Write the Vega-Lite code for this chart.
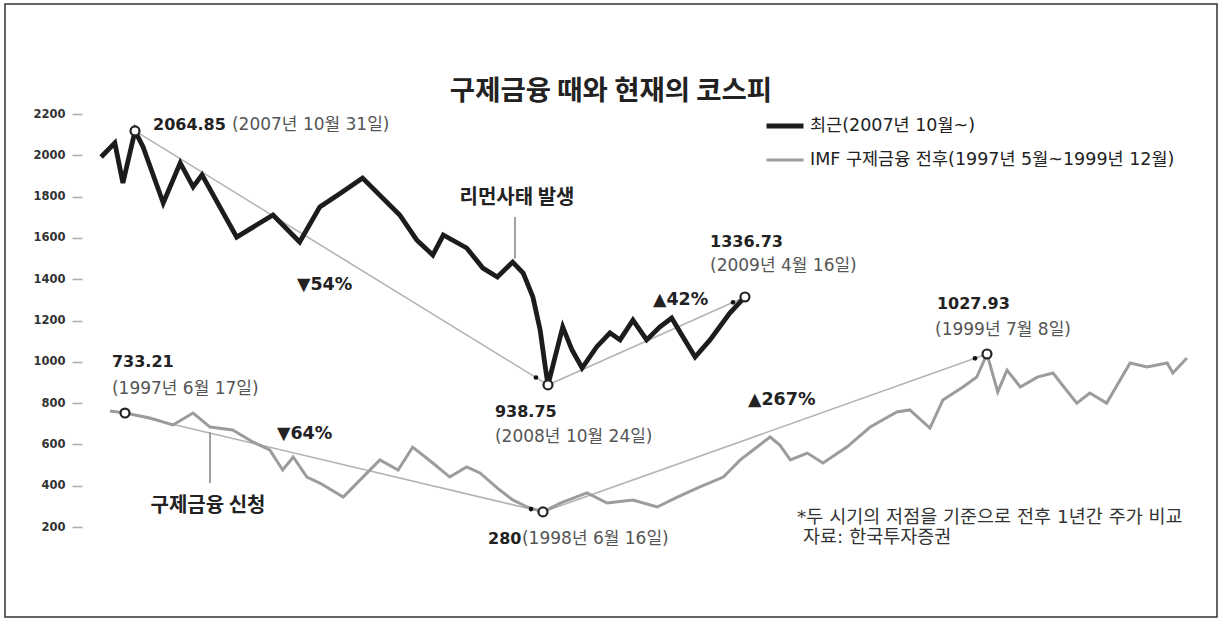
{
  "$schema": "https://vega.github.io/schema/vega-lite/v6.json",
  "width": 1212,
  "height": 613,
  "autosize": {"type": "none"},
  "padding": {"left": 5, "top": 4, "right": 4, "bottom": 4},
  "background": "white",
  "title": {"text": "구제금융 때와 현재의 코스피", "font": "Noto Sans CJK KR", "fontSize": 27.5, "fontWeight": "bold", "color": "#222", "anchor": "middle", "offset": -101},
  "config": {"view": {"stroke": "#333", "strokeWidth": 1.5}},
  "datasets": {
    "kospi": [
      {"series": "최근(2007년 10월~)", "w": -55.0, "v": 1992},
      {"series": "최근(2007년 10월~)", "w": -53.3, "v": 2060},
      {"series": "최근(2007년 10월~)", "w": -52.3, "v": 1866},
      {"series": "최근(2007년 10월~)", "w": -50.8, "v": 2118},
      {"series": "최근(2007년 10월~)", "w": -49.8, "v": 2040},
      {"series": "최근(2007년 10월~)", "w": -47.3, "v": 1769},
      {"series": "최근(2007년 10월~)", "w": -45.2, "v": 1963},
      {"series": "최근(2007년 10월~)", "w": -43.6, "v": 1847},
      {"series": "최근(2007년 10월~)", "w": -42.5, "v": 1905},
      {"series": "최근(2007년 10월~)", "w": -38.2, "v": 1604},
      {"series": "최근(2007년 10월~)", "w": -33.7, "v": 1711},
      {"series": "최근(2007년 10월~)", "w": -30.4, "v": 1580},
      {"series": "최근(2007년 10월~)", "w": -27.9, "v": 1750},
      {"series": "최근(2007년 10월~)", "w": -25.3, "v": 1817},
      {"series": "최근(2007년 10월~)", "w": -22.6, "v": 1890},
      {"series": "최근(2007년 10월~)", "w": -18.0, "v": 1711},
      {"series": "최근(2007년 10월~)", "w": -15.9, "v": 1590},
      {"series": "최근(2007년 10월~)", "w": -13.9, "v": 1517},
      {"series": "최근(2007년 10월~)", "w": -12.6, "v": 1614},
      {"series": "최근(2007년 10월~)", "w": -9.7, "v": 1551},
      {"series": "최근(2007년 10월~)", "w": -7.7, "v": 1454},
      {"series": "최근(2007년 10월~)", "w": -5.9, "v": 1411},
      {"series": "최근(2007년 10월~)", "w": -4.0, "v": 1483},
      {"series": "최근(2007년 10월~)", "w": -2.7, "v": 1430},
      {"series": "최근(2007년 10월~)", "w": -1.5, "v": 1314},
      {"series": "최근(2007년 10월~)", "w": -0.6, "v": 1154},
      {"series": "최근(2007년 10월~)", "w": 0.0, "v": 985},
      {"series": "최근(2007년 10월~)", "w": 0.37, "v": 888},
      {"series": "최근(2007년 10월~)", "w": 2.2, "v": 1169},
      {"series": "최근(2007년 10월~)", "w": 3.35, "v": 1057},
      {"series": "최근(2007년 10월~)", "w": 4.6, "v": 970},
      {"series": "최근(2007년 10월~)", "w": 6.4, "v": 1072},
      {"series": "최근(2007년 10월~)", "w": 8.05, "v": 1140},
      {"series": "최근(2007년 10월~)", "w": 9.3, "v": 1106},
      {"series": "최근(2007년 10월~)", "w": 10.9, "v": 1202},
      {"series": "최근(2007년 10월~)", "w": 12.6, "v": 1106},
      {"series": "최근(2007년 10월~)", "w": 14.25, "v": 1169},
      {"series": "최근(2007년 10월~)", "w": 15.7, "v": 1212},
      {"series": "최근(2007년 10월~)", "w": 17.1, "v": 1120},
      {"series": "최근(2007년 10월~)", "w": 18.6, "v": 1023},
      {"series": "최근(2007년 10월~)", "w": 20.45, "v": 1106},
      {"series": "최근(2007년 10월~)", "w": 22.9, "v": 1236},
      {"series": "최근(2007년 10월~)", "w": 24.78, "v": 1314},
      {"series": "IMF 구제금융 전후(1997년 5월~1999년 12월)", "w": -53.9, "v": 762},
      {"series": "IMF 구제금융 전후(1997년 5월~1999년 12월)", "w": -52.04, "v": 752},
      {"series": "IMF 구제금융 전후(1997년 5월~1999년 12월)", "w": -48.95, "v": 728},
      {"series": "IMF 구제금융 전후(1997년 5월~1999년 12월)", "w": -46.1, "v": 694},
      {"series": "IMF 구제금융 전후(1997년 5월~1999년 12월)", "w": -43.6, "v": 752},
      {"series": "IMF 구제금융 전후(1997년 5월~1999년 12월)", "w": -41.5, "v": 684},
      {"series": "IMF 구제금융 전후(1997년 5월~1999년 12월)", "w": -38.7, "v": 670},
      {"series": "IMF 구제금융 전후(1997년 5월~1999년 12월)", "w": -36.2, "v": 612},
      {"series": "IMF 구제금융 전후(1997년 5월~1999년 12월)", "w": -34.1, "v": 573},
      {"series": "IMF 구제금융 전후(1997년 5월~1999년 12월)", "w": -32.5, "v": 476},
      {"series": "IMF 구제금융 전후(1997년 5월~1999년 12월)", "w": -31.2, "v": 539},
      {"series": "IMF 구제금융 전후(1997년 5월~1999년 12월)", "w": -29.5, "v": 442},
      {"series": "IMF 구제금융 전후(1997년 5월~1999년 12월)", "w": -27.9, "v": 413},
      {"series": "IMF 구제금융 전후(1997년 5월~1999년 12월)", "w": -25.0, "v": 345},
      {"series": "IMF 구제금융 전후(1997년 5월~1999년 12월)", "w": -22.9, "v": 428},
      {"series": "IMF 구제금융 전후(1997년 5월~1999년 12월)", "w": -20.45, "v": 525},
      {"series": "IMF 구제금융 전후(1997년 5월~1999년 12월)", "w": -18.2, "v": 476},
      {"series": "IMF 구제금융 전후(1997년 5월~1999년 12월)", "w": -16.4, "v": 587},
      {"series": "IMF 구제금융 전후(1997년 5월~1999년 12월)", "w": -13.9, "v": 510},
      {"series": "IMF 구제금융 전후(1997년 5월~1999년 12월)", "w": -11.8, "v": 442},
      {"series": "IMF 구제금융 전후(1997년 5월~1999년 12월)", "w": -9.7, "v": 491},
      {"series": "IMF 구제금융 전후(1997년 5월~1999년 12월)", "w": -8.05, "v": 462},
      {"series": "IMF 구제금융 전후(1997년 5월~1999년 12월)", "w": -5.6, "v": 379},
      {"series": "IMF 구제금융 전후(1997년 5월~1999년 12월)", "w": -4.0, "v": 331},
      {"series": "IMF 구제금융 전후(1997년 5월~1999년 12월)", "w": -2.2, "v": 297},
      {"series": "IMF 구제금융 전후(1997년 5월~1999년 12월)", "w": -0.25, "v": 273},
      {"series": "IMF 구제금융 전후(1997년 5월~1999년 12월)", "w": 1.9, "v": 316},
      {"series": "IMF 구제금융 전후(1997년 5월~1999년 12월)", "w": 5.2, "v": 365},
      {"series": "IMF 구제금융 전후(1997년 5월~1999년 12월)", "w": 7.7, "v": 316},
      {"series": "IMF 구제금융 전후(1997년 5월~1999년 12월)", "w": 10.9, "v": 331},
      {"series": "IMF 구제금융 전후(1997년 5월~1999년 12월)", "w": 13.9, "v": 297},
      {"series": "IMF 구제금융 전후(1997년 5월~1999년 12월)", "w": 16.4, "v": 345},
      {"series": "IMF 구제금융 전후(1997년 5월~1999년 12월)", "w": 19.2, "v": 394},
      {"series": "IMF 구제금융 전후(1997년 5월~1999년 12월)", "w": 22.1, "v": 442},
      {"series": "IMF 구제금융 전후(1997년 5월~1999년 12월)", "w": 24.2, "v": 525},
      {"series": "IMF 구제금융 전후(1997년 5월~1999년 12월)", "w": 25.8, "v": 573},
      {"series": "IMF 구제금융 전후(1997년 5월~1999년 12월)", "w": 27.9, "v": 636},
      {"series": "IMF 구제금융 전후(1997년 5월~1999년 12월)", "w": 29.1, "v": 597},
      {"series": "IMF 구제금융 전후(1997년 5월~1999년 12월)", "w": 30.4, "v": 525},
      {"series": "IMF 구제금융 전후(1997년 5월~1999년 12월)", "w": 32.5, "v": 558},
      {"series": "IMF 구제금융 전후(1997년 5월~1999년 12월)", "w": 34.45, "v": 510},
      {"series": "IMF 구제금융 전후(1997년 5월~1999년 12월)", "w": 37.4, "v": 587},
      {"series": "IMF 구제금융 전후(1997년 5월~1999년 12월)", "w": 40.3, "v": 684},
      {"series": "IMF 구제금융 전후(1997년 5월~1999년 12월)", "w": 43.6, "v": 757},
      {"series": "IMF 구제금융 전후(1997년 5월~1999년 12월)", "w": 45.2, "v": 767},
      {"series": "IMF 구제금융 전후(1997년 5월~1999년 12월)", "w": 47.7, "v": 679},
      {"series": "IMF 구제금융 전후(1997년 5월~1999년 12월)", "w": 49.3, "v": 815},
      {"series": "IMF 구제금융 전후(1997년 5월~1999년 12월)", "w": 51.8, "v": 878},
      {"series": "IMF 구제금융 전후(1997년 5월~1999년 12월)", "w": 53.5, "v": 926},
      {"series": "IMF 구제금융 전후(1997년 5월~1999년 12월)", "w": 54.77, "v": 1038},
      {"series": "IMF 구제금융 전후(1997년 5월~1999년 12월)", "w": 56.1, "v": 854},
      {"series": "IMF 구제금융 전후(1997년 5월~1999년 12월)", "w": 57.25, "v": 960},
      {"series": "IMF 구제금융 전후(1997년 5월~1999년 12월)", "w": 58.9, "v": 878},
      {"series": "IMF 구제금융 전후(1997년 5월~1999년 12월)", "w": 61.0, "v": 926},
      {"series": "IMF 구제금융 전후(1997년 5월~1999년 12월)", "w": 62.95, "v": 946},
      {"series": "IMF 구제금융 전후(1997년 5월~1999년 12월)", "w": 64.4, "v": 873},
      {"series": "IMF 구제금융 전후(1997년 5월~1999년 12월)", "w": 65.9, "v": 800},
      {"series": "IMF 구제금융 전후(1997년 5월~1999년 12월)", "w": 67.5, "v": 849},
      {"series": "IMF 구제금융 전후(1997년 5월~1999년 12월)", "w": 69.6, "v": 800},
      {"series": "IMF 구제금융 전후(1997년 5월~1999년 12월)", "w": 72.5, "v": 994},
      {"series": "IMF 구제금융 전후(1997년 5월~1999년 12월)", "w": 74.6, "v": 975},
      {"series": "IMF 구제금융 전후(1997년 5월~1999년 12월)", "w": 77.1, "v": 994},
      {"series": "IMF 구제금융 전후(1997년 5월~1999년 12월)", "w": 77.8, "v": 946},
      {"series": "IMF 구제금융 전후(1997년 5월~1999년 12월)", "w": 79.55, "v": 1018}
    ],
    "trend": [
      {"seg": "a", "w": -50.8, "v": 2118},
      {"seg": "a", "w": 0.37, "v": 888},
      {"seg": "b", "w": 0.37, "v": 888},
      {"seg": "b", "w": 24.78, "v": 1314},
      {"seg": "c", "w": -52.04, "v": 752},
      {"seg": "c", "w": -0.25, "v": 273},
      {"seg": "d", "w": -0.25, "v": 273},
      {"seg": "d", "w": 54.77, "v": 1038}
    ],
    "keypoints": [
      {"w": -50.8, "v": 2118},
      {"w": 0.37, "v": 888},
      {"w": 24.78, "v": 1314},
      {"w": -52.04, "v": 752},
      {"w": -0.25, "v": 273},
      {"w": 54.77, "v": 1038}
    ],
    "tips": [
      {"w": -1.12, "v": 924},
      {"w": 23.3, "v": 1288},
      {"w": -1.73, "v": 287},
      {"w": 53.28, "v": 1017}
    ],
    "leaders": [
      {"w": -3.72, "v": 1701, "v2": 1500},
      {"w": -41.51, "v": 660, "v2": 413}
    ],
    "notes": [
      {"kind": "value", "w": -48.57, "v": 2147, "text": "2064.85"},
      {"kind": "value", "w": 20.45, "v": 1580, "text": "1336.73"},
      {"kind": "value", "w": -6.2, "v": 757, "text": "938.75"},
      {"kind": "value", "w": -53.66, "v": 999, "text": "733.21"},
      {"kind": "value", "w": 48.57, "v": 1280, "text": "1027.93"},
      {"kind": "value", "w": -7.06, "v": 142, "text": "280"},
      {"kind": "pct", "w": -30.73, "v": 1372, "text": "▼54%"},
      {"kind": "pct", "w": 13.38, "v": 1299, "text": "▲42%"},
      {"kind": "pct", "w": -33.21, "v": 650, "text": "▼64%"},
      {"kind": "pct", "w": 25.15, "v": 815, "text": "▲267%"},
      {"kind": "date", "w": -38.79, "v": 2147, "text": "(2007년 10월 31일)"},
      {"kind": "date", "w": 20.45, "v": 1464, "text": "(2009년 4월 16일)"},
      {"kind": "date", "w": -6.2, "v": 636, "text": "(2008년 10월 24일)"},
      {"kind": "date", "w": -53.66, "v": 868, "text": "(1997년 6월 17일)"},
      {"kind": "date", "w": 48.33, "v": 1154, "text": "(1999년 7월 8일)"},
      {"kind": "date", "w": -2.85, "v": 142, "text": "(1998년 6월 16일)"},
      {"kind": "label", "w": -3.47, "v": 1793, "text": "리먼사태 발생"},
      {"kind": "label", "w": -41.76, "v": 302, "text": "구제금융 신청"},
      {"kind": "note", "w": 31.23, "v": 248, "text": "*두 시기의 저점을 기준으로 전후 1년간 주가 비교"},
      {"kind": "note", "w": 31.97, "v": 150, "text": "자료: 한국투자증권"}
    ]
  },
  "encoding": {
    "x": {"field": "w", "type": "quantitative", "scale": {"domain": [-66.91, 83.27], "nice": false, "zero": false}, "axis": null},
    "y": {"field": "v", "type": "quantitative", "scale": {"domain": [-235.8, 2732.7], "nice": false, "zero": false},
      "axis": {"values": [200, 400, 600, 800, 1000, 1200, 1400, 1600, 1800, 2000, 2200], "format": "d", "grid": false, "domain": false, "offset": -77, "tickSize": 10, "tickColor": "#aaa", "tickWidth": 1.5, "labelPadding": 7, "labelFont": "DejaVu Sans", "labelFontSize": 11.5, "labelFontWeight": "bold", "labelColor": "#333", "title": null}}
  },
  "layer": [
    {
      "data": {"name": "trend"},
      "mark": {"type": "line", "color": "#b3b3b3", "strokeWidth": 1.6},
      "encoding": {"detail": {"field": "seg", "type": "nominal"}}
    },
    {
      "data": {"name": "leaders"},
      "mark": {"type": "rule", "color": "#a0a0a0", "strokeWidth": 2},
      "encoding": {"y2": {"field": "v2"}}
    },
    {
      "data": {"name": "kospi"},
      "mark": {"type": "line", "strokeJoin": "miter"},
      "encoding": {
        "color": {"field": "series", "type": "nominal",
          "scale": {"domain": ["최근(2007년 10월~)", "IMF 구제금융 전후(1997년 5월~1999년 12월)"], "range": ["#1c1c1c", "#9c9c9c"]},
          "legend": {"orient": "none", "legendX": 759, "legendY": 101, "title": null, "symbolType": "stroke", "symbolSize": 1369, "labelFont": "DejaVu Sans, Noto Sans CJK KR", "labelFontSize": 17.5, "labelColor": "#222", "labelLimit": 600, "rowPadding": 4, "padding": 0, "labelOffset": 4}},
        "strokeWidth": {"field": "series", "type": "nominal",
          "scale": {"domain": ["최근(2007년 10월~)", "IMF 구제금융 전후(1997년 5월~1999년 12월)"], "range": [4.8, 3]},
          "legend": {"orient": "none", "legendX": 759, "legendY": 101, "title": null, "symbolType": "stroke", "symbolSize": 1369, "labelFont": "DejaVu Sans, Noto Sans CJK KR", "labelFontSize": 17.5, "labelColor": "#222", "labelLimit": 600, "rowPadding": 4, "padding": 0, "labelOffset": 4}}
      }
    },
    {
      "data": {"name": "tips"},
      "mark": {"type": "point", "filled": true, "color": "#111", "size": 22, "opacity": 1}
    },
    {
      "data": {"name": "keypoints"},
      "mark": {"type": "point", "filled": true, "fill": "white", "stroke": "#222", "strokeWidth": 2.2, "size": 80, "opacity": 1}
    },
    {
      "data": {"name": "notes"},
      "transform": [{"filter": "datum.kind === 'value'"}],
      "mark": {"type": "text", "align": "left", "baseline": "middle", "font": "DejaVu Sans", "fontSize": 16, "fontWeight": "bold", "color": "#222"},
      "encoding": {"text": {"field": "text"}}
    },
    {
      "data": {"name": "notes"},
      "transform": [{"filter": "datum.kind === 'pct'"}],
      "mark": {"type": "text", "align": "left", "baseline": "middle", "font": "DejaVu Sans", "fontSize": 17.5, "fontWeight": "bold", "color": "#222"},
      "encoding": {"text": {"field": "text"}}
    },
    {
      "data": {"name": "notes"},
      "transform": [{"filter": "datum.kind === 'date'"}],
      "mark": {"type": "text", "align": "left", "baseline": "middle", "font": "DejaVu Sans, Noto Sans CJK KR", "fontSize": 17, "color": "#555"},
      "encoding": {"text": {"field": "text"}}
    },
    {
      "data": {"name": "notes"},
      "transform": [{"filter": "datum.kind === 'label'"}],
      "mark": {"type": "text", "align": "center", "baseline": "middle", "font": "Noto Sans CJK KR", "fontSize": 20, "fontWeight": "bold", "color": "#222"},
      "encoding": {"text": {"field": "text"}}
    },
    {
      "data": {"name": "notes"},
      "transform": [{"filter": "datum.kind === 'note'"}],
      "mark": {"type": "text", "align": "left", "baseline": "middle", "font": "DejaVu Sans, Noto Sans CJK KR", "fontSize": 18.5, "color": "#333"},
      "encoding": {"text": {"field": "text"}}
    }
  ]
}
